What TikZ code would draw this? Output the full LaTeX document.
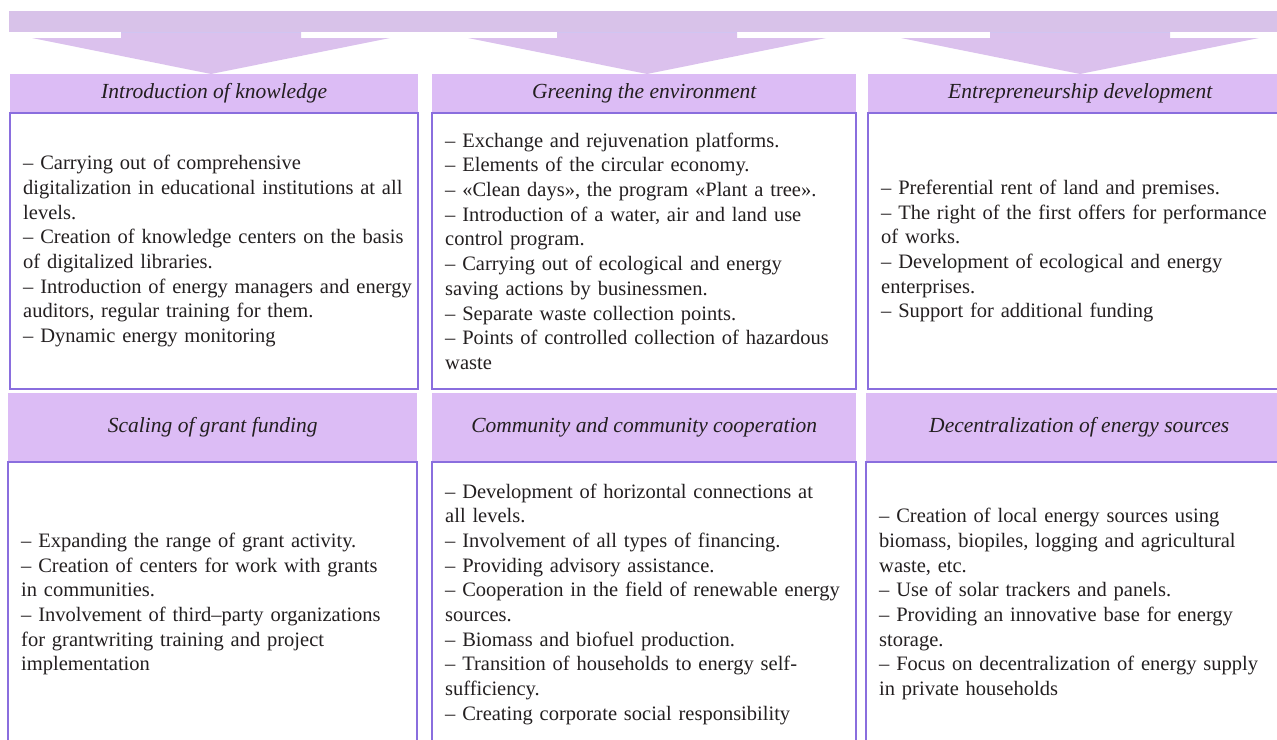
\documentclass[tikz,border=0pt]{standalone}
\usepackage{fontspec}
\setmainfont{Liberation Serif}
\usetikzlibrary{positioning}
\hyphenpenalty=10000
\definecolor{bandc}{RGB}{216,194,233}
\definecolor{arrowc}{RGB}{219,193,237}
\definecolor{headc}{RGB}{220,188,245}
\definecolor{edgec}{RGB}{138,110,222}
\definecolor{inkc}{RGB}{35,31,32}
\tikzset{
  head/.style={fill=headc,text=inkc,font=\fontsize{21.5}{25}\selectfont\itshape,
    inner sep=0pt,anchor=north west},
  itembox/.style={draw=edgec,line width=1.5pt,text=inkc,
    font=\fontsize{20.5}{24.7}\selectfont,
    align=left,inner xsep=13pt,inner ysep=0pt},
}
\begin{document}
\begin{tikzpicture}[x=1pt,y=-1pt]
\clip (0,0) rectangle (1277,739);
% band and the three down arrows
\fill[bandc] (9,11) rectangle (1295,32);
\foreach \cx in {211,647,1080}{
  \fill[arrowc] (\cx-90,32) -- (\cx+90,32) -- (\cx+90,38) -- (\cx+179,38)
    -- (\cx,74) -- (\cx-179,38) -- (\cx-90,38) -- cycle;
  \draw[edgec!40,line width=0.6pt] (\cx-90,32) -- (\cx+90,32);
}
% first row
\node (h1) [head,minimum width=408pt,minimum height=38pt] at (10,74) {Introduction of knowledge};
\node (h2) [head,minimum width=424pt,minimum height=38pt] at (432,74) {Greening the environment};
\node (h3) [head,minimum width=424pt,minimum height=38pt] at (868,74) {Entrepreneurship development};
%
\node (b1) [itembox,text width=382pt,minimum height=276pt,below=0pt of h1] {%
– Carrying out of comprehensive\\
digitalization in educational institutions at all\\
levels.\\
– Creation of knowledge centers on the basis\\
of digitalized libraries.\\
\mbox{– Introduction of energy managers and energy}\\
auditors, regular training for them.\\
– Dynamic energy monitoring};
\node (b2) [itembox,text width=398pt,minimum height=276pt,below=0pt of h2] {%
– Exchange and rejuvenation platforms.\\
– Elements of the circular economy.\\
– «Clean days», the program «Plant a tree».\\
– Introduction of a water, air and land use\\
control program.\\
– Carrying out of ecological and energy\\
saving actions by businessmen.\\
– Separate waste collection points.\\
– Points of controlled collection of hazardous\\
waste};
\node (b3) [itembox,text width=398pt,minimum height=276pt,below=0pt of h3] {%
– Preferential rent of land and premises.\\
– The right of the first offers for performance\\
of works.\\
– Development of ecological and energy\\
enterprises.\\
– Support for additional funding};
% second row
\node (h4) [head,minimum width=409pt,minimum height=68pt] at (8,393) {Scaling of grant funding};
\node (h5) [head,minimum width=424pt,minimum height=68pt] at (432,393) {Community and community cooperation};
\node (h6) [head,minimum width=426pt,minimum height=68pt] at (866,393) {Decentralization of energy sources};
%
\node (b4) [itembox,text width=383pt,minimum height=284pt,below=0pt of h4] {%
– Expanding the range of grant activity.\\
– Creation of centers for work with grants\\
in communities.\\
– Involvement of third–party organizations\\
for grantwriting training and project\\
implementation};
\node (b5) [itembox,text width=398pt,minimum height=284pt,below=0pt of h5] {%
– Development of horizontal connections at\\
all levels.\\
– Involvement of all types of financing.\\
– Providing advisory assistance.\\
– Cooperation in the field of renewable energy\\
sources.\\
– Biomass and biofuel production.\\
– Transition of households to energy self-\\
sufficiency.\\
– Creating corporate social responsibility};
\node (b6) [itembox,text width=400pt,minimum height=284pt,below=0pt of h6] {%
– Creation of local energy sources using\\
biomass, biopiles, logging and agricultural\\
waste, etc.\\
– Use of solar trackers and panels.\\
– Providing an innovative base for energy\\
storage.\\
– Focus on decentralization of energy supply\\
in private households};
\end{tikzpicture}
\end{document}
